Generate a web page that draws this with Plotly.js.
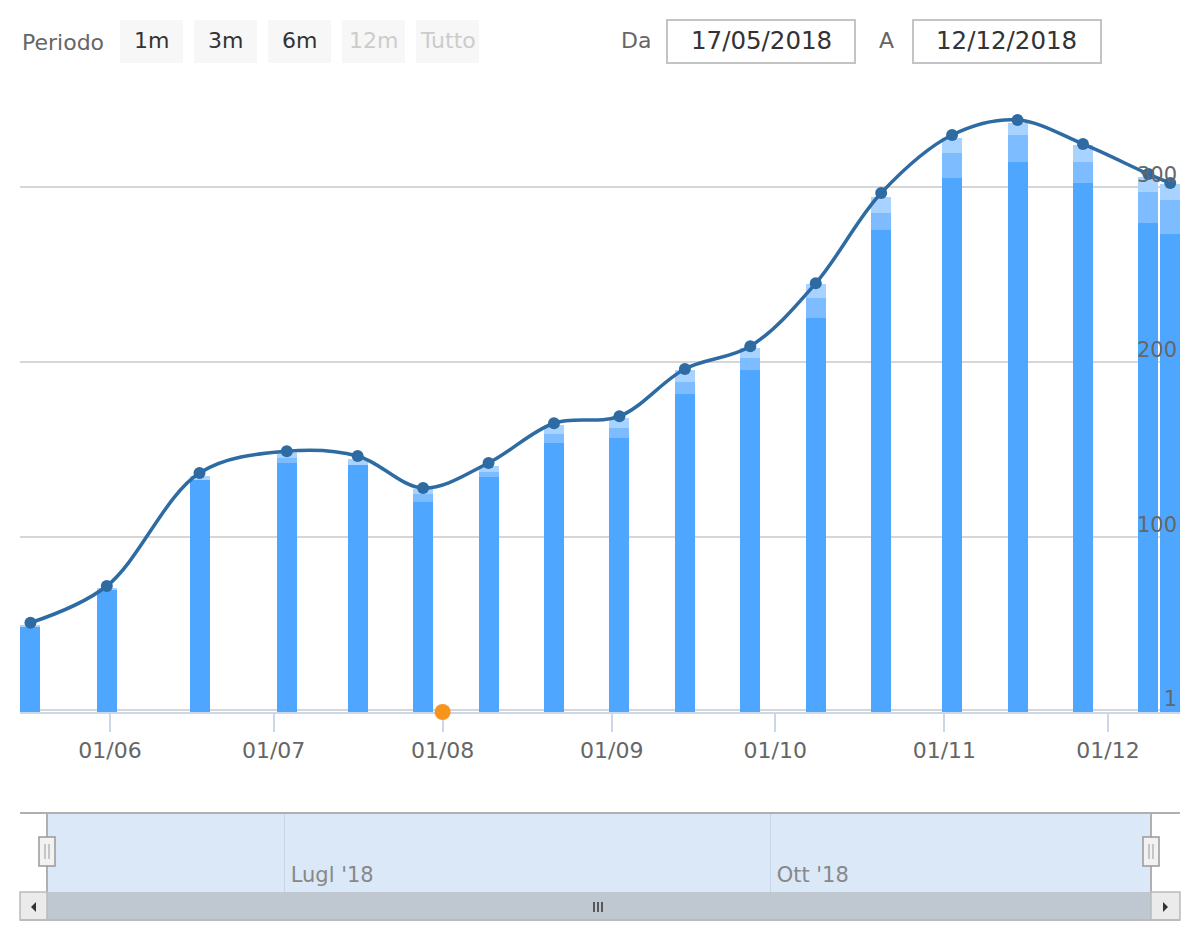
<!DOCTYPE html>
<html>
<head>
<meta charset="utf-8">
<script src="https://cdn.plot.ly/plotly-3.0.1.min.js"></script>
<style>html,body{margin:0;padding:0;background:#fff;}#chart{width:1200px;height:950px;}</style>
</head>
<body>
<div id="chart"></div>
<script>
// ---- data ----
const dates = ['2018-05-17 10:00','2018-05-31 10:00','2018-06-17 10:00','2018-07-03 10:00','2018-07-16 10:00','2018-07-28 10:00','2018-08-09 10:00','2018-08-21 10:00','2018-09-02 10:00','2018-09-14 10:00','2018-09-26 10:00','2018-10-08 10:00','2018-10-20 10:00','2018-11-02 10:00','2018-11-14 10:00','2018-11-26 10:00','2018-12-08 10:00','2018-12-12 10:00'];
const baseVals = [48.7, 70, 132.6, 142.1, 141.1, 120.2, 134.1, 153.5, 156.8, 181.7, 195.4, 225, 275.4, 305.3, 314.5, 302.1, 279.3, 273.1];
const midVals  = [0, 0, 0, 2.9, 0, 4.2, 3.2, 5.5, 5.3, 7, 6.7, 11.4, 9.9, 13.9, 15.3, 12.4, 18, 19.4];
const topVals  = [1, 0.7, 2.3, 2.8, 3.3, 2.8, 3.3, 5.2, 5.7, 6.7, 5.7, 8.2, 9.2, 8.6, 6.9, 9.5, 8.6, 9.5];
const lineVals = [51, 72, 136.6, 149, 146.3, 128, 142.3, 165, 169, 196, 209, 245, 296.6, 329.7, 338.3, 324.6, 307.4, 302.3];
const flagDates = ['2018-08-01'];
const flagVals = [0];
const yTickVals = [1, 100, 200, 300];
const yTickText = ['1', '100', '200', '300'];
const navTickVals = ['2018-07-01', '2018-10-01'];
const navTickText = ["Lugl '18", "Ott '18"];
const rangeButtons = ['1m', '3m', '6m', '12m', 'Tutto'];
const rangeEnabled = [true, true, true, false, false];
const fromDate = '17/05/2018';
const toDate = '12/12/2018';

// ---- helpers (pixel -> paper) ----
const W = 1200, H = 950;
const px = x => x / W;
const py = y => 1 - y / H;
const FONT = 'DejaVu Sans, Verdana, sans-serif';
const barWidth = 3.667 * 86400000;

const traces = [
  {type:'bar', x:dates, y:baseVals, width:barWidth, marker:{color:'#4ea6ff', line:{width:0}}, hoverinfo:'skip'},
  {type:'bar', x:dates, y:midVals, width:barWidth, marker:{color:'#7cbcff', line:{width:0}}, hoverinfo:'skip'},
  {type:'bar', x:dates, y:topVals, width:barWidth, marker:{color:'#a8d2ff', line:{width:0}}, hoverinfo:'skip'},
  {type:'scatter', mode:'lines+markers', x:dates, y:lineVals, line:{color:'#2d6ba2', width:3.5, shape:'spline', smoothing:1}, marker:{color:'#2d6ba2', size:12}, hoverinfo:'skip'},
  {type:'scatter', mode:'markers', x:flagDates, y:flagVals, marker:{color:'#f7941d', size:16}, cliponaxis:false, hoverinfo:'skip'},
  {type:'scatter', mode:'none', x:dates, y:lineVals, xaxis:'x2', yaxis:'y2', hoverinfo:'skip'}
];

const shapes = [];
const annotations = [];

// range selector
annotations.push({xref:'paper', yref:'paper', x:px(20), y:py(42), xanchor:'left', yanchor:'middle', text:'Periodo', showarrow:false, font:{family:FONT, size:22, color:'#666666'}});
rangeButtons.forEach((b, i) => {
  const x0 = 120 + i * 74, x1 = x0 + 63;
  shapes.push({type:'rect', xref:'paper', yref:'paper', x0:px(x0), x1:px(x1), y0:py(63), y1:py(20), fillcolor:'#f7f7f7', line:{width:0}, layer:'below'});
  annotations.push({xref:'paper', yref:'paper', x:px((x0 + x1) / 2), y:py(41), xanchor:'center', yanchor:'middle', text:b, showarrow:false, font:{family:FONT, size:22, color: rangeEnabled[i] ? '#333333' : '#cccccc'}});
});
// date inputs
annotations.push({xref:'paper', yref:'paper', x:px(636), y:py(41), xanchor:'center', yanchor:'middle', text:'Da', showarrow:false, font:{family:FONT, size:22, color:'#666666'}});
annotations.push({xref:'paper', yref:'paper', x:px(886), y:py(41), xanchor:'center', yanchor:'middle', text:'A', showarrow:false, font:{family:FONT, size:22, color:'#666666'}});
[[667, 855, fromDate], [913, 1101, toDate]].forEach(([a, b, t]) => {
  shapes.push({type:'rect', xref:'paper', yref:'paper', x0:px(a), x1:px(b), y0:py(63), y1:py(20), fillcolor:'#ffffff', line:{color:'#c4c4c4', width:2}});
  annotations.push({xref:'paper', yref:'paper', x:px((a + b) / 2), y:py(41), xanchor:'center', yanchor:'middle', text:t, showarrow:false, font:{family:FONT, size:24.5, color:'#333333'}});
});

// navigator
shapes.push({type:'rect', xref:'paper', yref:'paper', x0:px(47), x1:px(1151), y0:py(892), y1:py(813), fillcolor:'#dae8f8', line:{width:0}, layer:'below'});
shapes.push({type:'line', xref:'paper', yref:'paper', x0:px(20), x1:px(1180), y0:py(813), y1:py(813), line:{color:'#b0b0b0', width:2}});
shapes.push({type:'line', xref:'paper', yref:'paper', x0:px(47), x1:px(47), y0:py(813), y1:py(892), line:{color:'#b0b0b0', width:2}});
shapes.push({type:'line', xref:'paper', yref:'paper', x0:px(1151), x1:px(1151), y0:py(813), y1:py(892), line:{color:'#b0b0b0', width:2}});
[47, 1151].forEach(c => {
  shapes.push({type:'rect', xref:'paper', yref:'paper', x0:px(c - 8), x1:px(c + 8), y0:py(866), y1:py(837), fillcolor:'#f2f2f2', line:{color:'#999999', width:1.5}});
  shapes.push({type:'line', xref:'paper', yref:'paper', x0:px(c - 2), x1:px(c - 2), y0:py(844), y1:py(859), line:{color:'#999999', width:1}});
  shapes.push({type:'line', xref:'paper', yref:'paper', x0:px(c + 2), x1:px(c + 2), y0:py(844), y1:py(859), line:{color:'#999999', width:1}});
});
// scrollbar
shapes.push({type:'rect', xref:'paper', yref:'paper', x0:px(47), x1:px(1151), y0:py(920), y1:py(892), fillcolor:'#bfc8d1', line:{width:0}});
shapes.push({type:'rect', xref:'paper', yref:'paper', x0:px(20), x1:px(47), y0:py(920), y1:py(892), fillcolor:'#ebebeb', line:{color:'#bbbbbb', width:1.5}});
shapes.push({type:'rect', xref:'paper', yref:'paper', x0:px(1151), x1:px(1180), y0:py(920), y1:py(892), fillcolor:'#ebebeb', line:{color:'#bbbbbb', width:1.5}});
shapes.push({type:'line', xref:'paper', yref:'paper', x0:px(20), x1:px(1180), y0:py(920), y1:py(920), line:{color:'#bbbbbb', width:2}});
shapes.push({type:'path', xref:'paper', yref:'paper', path:`M ${px(36)} ${py(902)} L ${px(31)} ${py(907)} L ${px(36)} ${py(912)} Z`, fillcolor:'#333333', line:{width:0}});
shapes.push({type:'path', xref:'paper', yref:'paper', path:`M ${px(1163)} ${py(902)} L ${px(1168)} ${py(907)} L ${px(1163)} ${py(912)} Z`, fillcolor:'#333333', line:{width:0}});
[594, 598, 602].forEach(g => {
  shapes.push({type:'line', xref:'paper', yref:'paper', x0:px(g), x1:px(g), y0:py(902), y1:py(912), line:{color:'#333333', width:1.5}});
});

const layout = {
  width: W, height: H,
  margin: {l:0, r:0, t:0, b:0},
  paper_bgcolor: '#ffffff', plot_bgcolor: 'rgba(0,0,0,0)',
  showlegend: false,
  barmode: 'stack',
  hovermode: false,
  font: {family: FONT, color: '#666666'},
  xaxis: {
    domain: [px(20), px(1180)], anchor: 'y', type: 'date',
    range: ['2018-05-15 12:00', '2018-12-14 05:00'],
    tick0: '2018-06-01', dtick: 'M1', tickformat: '%d/%m',
    ticks: 'outside', ticklen: 18, tickwidth: 2, tickcolor: '#ccd6eb',
    showline: true, linecolor: '#ccd6eb', linewidth: 2,
    showgrid: false, zeroline: false,
    tickfont: {family: FONT, size: 22, color: '#666666'},
    layer: 'below traces', fixedrange: true
  },
  yaxis: {
    domain: [py(712), py(90)], anchor: 'x', side: 'right',
    range: [0, 355.43],
    tickvals: yTickVals, ticktext: yTickText,
    ticklabelposition: 'inside', ticklabelshift: -12, ticklabelstandoff: 0,
    ticks: '', showline: false, zeroline: false,
    showgrid: true, gridcolor: '#d6d6d6', gridwidth: 2,
    tickfont: {family: FONT, size: 21, color: '#666666'},
    fixedrange: true
  },
  xaxis2: {
    domain: [px(47), px(1151)], anchor: 'y2', type: 'date',
    range: ['2018-05-17', '2018-12-12'],
    tickvals: navTickVals, ticktext: navTickText,
    ticklabelposition: 'inside right', ticklabelshift: 6,
    ticks: '', showline: false, zeroline: false,
    showgrid: true, gridcolor: '#c6d4e4', gridwidth: 1.5,
    tickfont: {family: FONT, size: 21, color: '#888888'},
    fixedrange: true
  },
  yaxis2: {
    domain: [py(892), py(813)], anchor: 'x2', range: [0, 400],
    showgrid: false, showticklabels: false, zeroline: false, showline: false, ticks: '',
    fixedrange: true
  },
  shapes: shapes,
  annotations: annotations
};

Plotly.newPlot('chart', traces, layout, {displayModeBar: false, staticPlot: true});
</script>
</body>
</html>
